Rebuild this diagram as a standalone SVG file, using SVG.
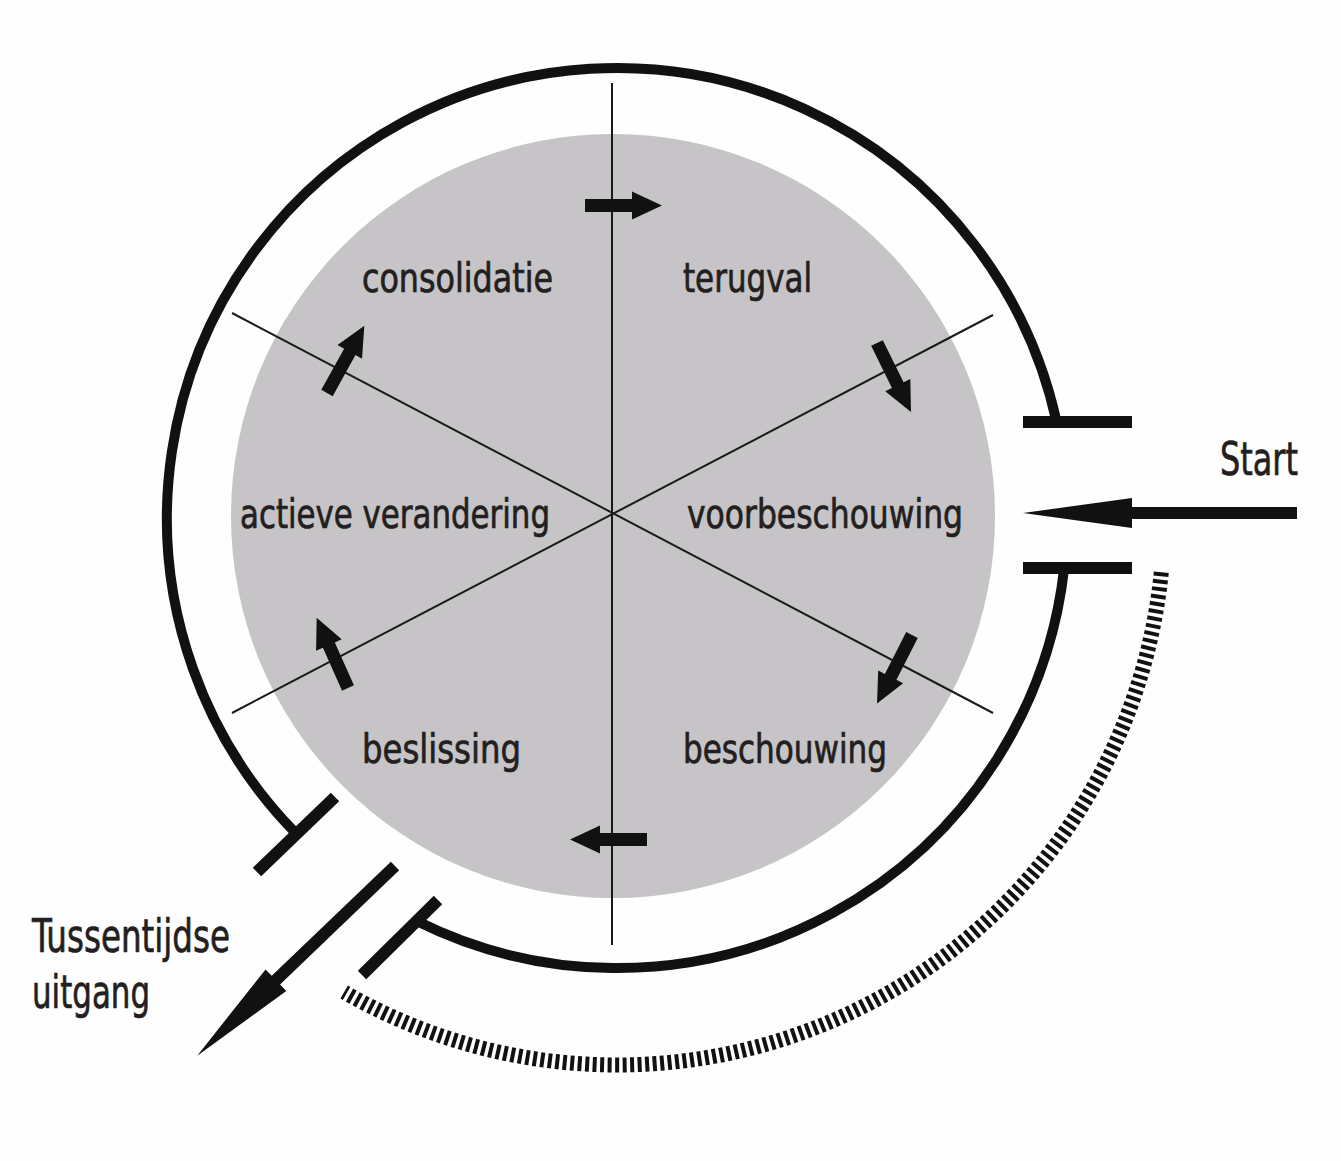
<svg xmlns="http://www.w3.org/2000/svg" width="1341" height="1161" viewBox="0 0 1341 1161">
  <style>
    .label { font-family: "Liberation Sans Narrow", "DejaVu Sans Condensed", "Liberation Sans", sans-serif; fill: #231f20; stroke: #231f20; stroke-width: 0.7; }
    .inner { font-size: 40px; }
    .outer { font-size: 46px; }
    .ring { fill: none; stroke: #111; stroke-width: 10; }
    .bar { stroke: #111; stroke-width: 12; stroke-linecap: butt; }
    .divider { stroke: #1a1a1a; stroke-width: 2; }
    .arrow { fill: #111; }
    .dots { fill: none; stroke: #111; stroke-width: 15; stroke-dasharray: 4 3.5; }
  </style>
  <defs>
    <!-- small block arrow, tail at origin, pointing along +x -->
    <path id="smallArrow" d="M0,-6.5 H47 V-14 L77,0 L47,14 V6.5 H0 Z"/>
    <!-- long entry/exit arrow, tail at origin, pointing along +x -->
    <path id="bigArrow" d="M0,-6 H165 V-15 L274,0 L165,15 V6 H0 Z"/>
  </defs>

  <rect width="1341" height="1161" fill="#fefefe"/>

  <!-- central disc -->
  <circle id="disc" cx="613" cy="516" r="382" fill="#c6c4c6"/>

  <!-- sector dividers -->
  <g id="dividers">
    <line class="divider" x1="612" y1="83" x2="612" y2="945"/>
    <line class="divider" x1="232" y1="313" x2="993" y2="713"/>
    <line class="divider" x1="232" y1="713" x2="993" y2="315"/>
  </g>

  <g id="connectors">
    <!-- outer ring, open at the entry and the exit -->
    <path class="ring" d="M1056.6,422 A450,450 0 1 0 296.6,834"/>
    <path class="ring" d="M416.7,921 A450,450 0 0 0 1064.2,568"/>
    <!-- gate bars -->
    <line class="bar" x1="1023" y1="422" x2="1132" y2="422"/>
    <line class="bar" x1="1023" y1="568" x2="1132" y2="568"/>
    <line class="bar" x1="257" y1="872" x2="335" y2="797"/>
    <line class="bar" x1="362" y1="975" x2="438" y2="900"/>
    <!-- hatched return path -->
    <path class="dots" d="M1161.3,572.3 A547,547 0 0 1 344.2,992.1"/>
    <!-- entry and exit arrows -->
    <use href="#bigArrow" class="arrow" transform="translate(1297,513) rotate(180)"/>
    <use href="#bigArrow" class="arrow" transform="translate(395,866) rotate(136.2)"/>
    <!-- cycle arrows -->
    <use href="#smallArrow" class="arrow" transform="translate(585,205.5)"/>
    <use href="#smallArrow" class="arrow" transform="translate(877,343) rotate(63.8)"/>
    <use href="#smallArrow" class="arrow" transform="translate(912,635) rotate(117)"/>
    <use href="#smallArrow" class="arrow" transform="translate(647,839.5) rotate(180)"/>
    <use href="#smallArrow" class="arrow" transform="translate(348,688) rotate(-114)"/>
    <use href="#smallArrow" class="arrow" transform="translate(327,393) rotate(-61)"/>
  </g>

  <g id="consolidatie"><text class="label inner" x="362" y="292" textLength="191" lengthAdjust="spacingAndGlyphs">consolidatie</text></g>
  <g id="terugval"><text class="label inner" x="683" y="292" textLength="129" lengthAdjust="spacingAndGlyphs">terugval</text></g>
  <g id="actieve-verandering"><text class="label inner" x="240" y="528" textLength="310" lengthAdjust="spacingAndGlyphs">actieve verandering</text></g>
  <g id="voorbeschouwing"><text class="label inner" x="687" y="528" textLength="276" lengthAdjust="spacingAndGlyphs">voorbeschouwing</text></g>
  <g id="beslissing"><text class="label inner" x="362" y="763" textLength="159" lengthAdjust="spacingAndGlyphs">beslissing</text></g>
  <g id="beschouwing"><text class="label inner" x="683" y="763" textLength="204" lengthAdjust="spacingAndGlyphs">beschouwing</text></g>
  <g id="start"><text class="label outer" x="1220" y="475" textLength="78" lengthAdjust="spacingAndGlyphs">Start</text></g>
  <g id="tussentijdse-uitgang">
    <text class="label outer" x="32" y="952" textLength="198" lengthAdjust="spacingAndGlyphs">Tussentijdse</text>
    <text class="label outer" x="32" y="1008" textLength="118" lengthAdjust="spacingAndGlyphs">uitgang</text>
  </g>
</svg>
